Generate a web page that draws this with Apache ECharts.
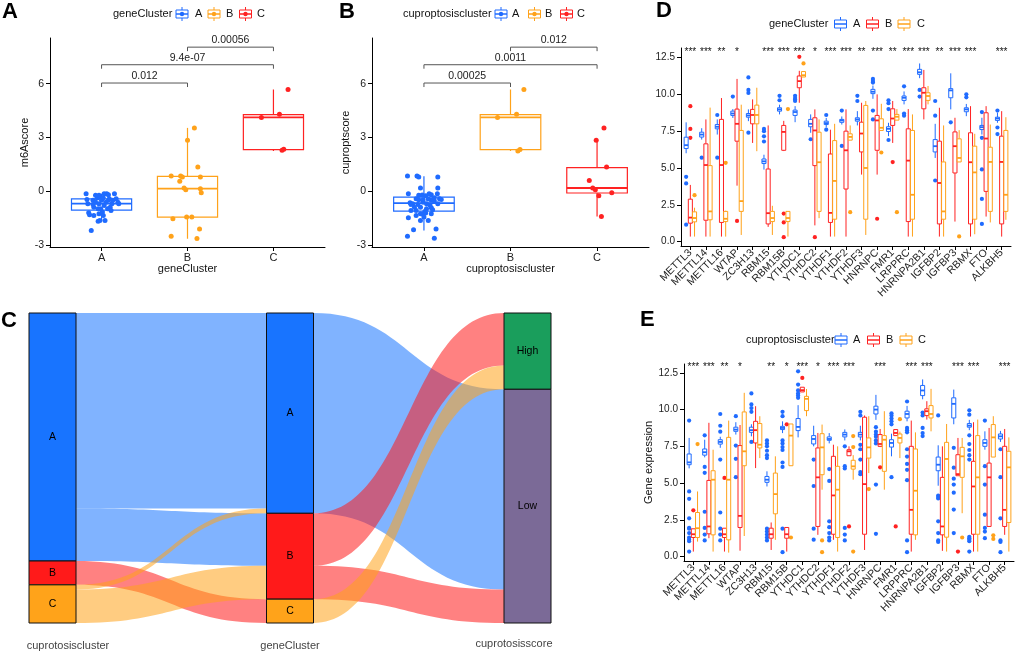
<!DOCTYPE html>
<html><head><meta charset="utf-8">
<script src="https://cdn.jsdelivr.net/npm/echarts@6.0.0/dist/echarts.min.js"></script>
<style>html,body{margin:0;padding:0;background:#fff}#c{width:1017px;height:652px}</style>
</head><body><div id="c"></div>
<script>
const FONT = "'Liberation Sans', Arial, sans-serif";
const BLUE = '#1F6BFF', ORANGE = '#FFA21A', RED = '#FF2222';

// ---------- Panel A / B ----------
const catsAB = ['A', 'B', 'C'];
const boxA = [[-1.62,-1.05,-0.68,-0.42,-0.13],[-2.64,-1.43,0.15,0.84,3.54],[2.25,2.33,4.12,4.28,5.68]];
const ptsA_A = [[-0.18,-0.13],[-0.12,-2.18],[-0.17,-0.45],[-0.16,-0.69],[-0.15,-1.19],[-0.14,-1.30],[-0.10,-0.50],[-0.09,-0.88],[-0.07,-0.60],[-0.05,-0.37],[-0.04,-0.97],[-0.03,-0.22],[-0.03,-1.25],[-0.02,-1.62],[-0.01,-0.32],[0.00,-0.50],[0.01,-1.15],[0.02,-1.34],[0.03,-0.13],[0.04,-1.62],[0.05,-0.60],[0.06,-0.13],[0.07,-0.97],[0.08,-0.50],[0.09,-0.41],[0.10,-0.88],[0.11,-1.06],[0.12,-0.69],[0.13,-0.50],[0.15,-0.13],[0.17,-0.41],[0.19,-0.60],[0.20,-0.69],[-0.04,-1.66],[-0.01,-0.97],[0.03,-0.78],[-0.07,-0.22],[-0.09,-1.34],[-0.03,-0.69],[0.08,-0.19],[0.02,-0.35],[-0.10,-0.73]];
const ptsA_B = [[0.08,3.54],[0.0,2.85],[0.12,1.36],[-0.19,0.86],[-0.08,0.86],[-0.06,0.80],[0.15,0.80],[-0.09,0.56],[-0.04,0.19],[-0.02,0.09],[0.15,0.15],[0.16,-0.07],[-0.17,-1.53],[-0.01,-1.43],[0.05,-1.43],[0.14,-2.09],[-0.19,-2.50],[0.11,-2.63]];
const ptsA_C = [[0.17,5.68],[0.07,4.30],[-0.14,4.12],[0.10,2.29],[0.12,2.35]];
const brA = [[0,1,6.04],[0,2,7.06],[1,2,8.04]];
const brA_lab = ['0.012','9.4e-07','0.00056'];

const boxB = [[-2.18,-1.1,-0.65,-0.32,0.84],[2.25,2.33,4.12,4.28,5.68],[-1.4,-0.09,0.19,1.32,2.85]];
const ptsB_A = [[-0.19,0.86],[-0.08,0.86],[-0.06,0.80],[0.16,0.80],[-0.04,0.19],[0.16,0.19],[-0.18,-0.13],[0.06,-0.13],[0.155,-0.13],[-0.06,-0.22],[-0.02,-0.20],[0.02,-0.24],[0.085,-0.19],[-0.09,-0.41],[0.18,-0.41],[0.085,-0.50],[0.12,-0.54],[0.20,-0.45],[-0.16,-0.63],[-0.13,-0.69],[-0.07,-0.73],[-0.01,-0.60],[0.03,-0.69],[0.07,-0.76],[0.16,-0.69],[-0.11,-0.88],[-0.04,-0.88],[0.085,-0.91],[-0.15,-1.06],[-0.09,-1.06],[0.01,-1.12],[0.10,-1.02],[-0.04,-1.25],[-0.01,-1.28],[0.02,-1.21],[-0.18,-1.47],[0.0,-1.43],[-0.04,-1.62],[0.05,-1.62],[-0.12,-2.14],[0.14,-2.09],[-0.19,-2.50],[0.12,-2.61],[0.03,-0.97],[-0.06,-0.47],[0.12,-0.35],[-0.15,-0.73],[-0.01,-0.47],[0.05,-0.43],[-0.09,-1.34],[0.085,-1.25]];
const ptsB_B = [[0.155,5.68],[0.07,4.30],[-0.15,4.12],[0.085,2.25],[0.11,2.33]];
const ptsB_C = [[0.08,3.54],[-0.01,2.85],[0.11,1.36],[-0.09,0.60],[-0.05,0.19],[-0.02,0.09],[0.02,-0.24],[0.17,-0.07],[0.05,-1.40]];
const brB = [[0,1,6.04],[0,2,7.06],[1,2,8.04]];
const brB_lab = ['0.00025','0.0011','0.012'];

// ---------- Panel C (sankey) ----------
const sankeyNames = ['cA','cB','cC','gA','gB','gC','High','Low'];
const sankeyLabels = ['A','B','C','A','B','C','High','Low'];
const sankeyColors = ['#1874FF','#FF1A1A','#FFA31A','#1874FF','#FF1A1A','#FFA31A','#1A9E5C','#7B6A97'];
const sankeyLinks = [['cA','gA',41],['cA','gB',11],['cB','gC',5],['cC','gA',1],['cC','gB',7],['gA','Low',42],['gB','High',11],['gB','Low',7],['gC','High',5]];

// ---------- Panels D / E ----------
const genes = ['METTL3','METTL14','METTL16','WTAP','ZC3H13','RBM15','RBM15B','YTHDC1','YTHDC2','YTHDF1','YTHDF2','YTHDF3','HNRNPC','FMR1','LRPPRC','HNRNPA2B1','IGFBP2','IGFBP3','RBMX','FTO','ALKBH5'];
const sigD = ['***','***','**','*','','***','***','***','*','***','***','**','***','**','***','***','**','***','***','','***'];
const sigE = ['***','***','**','*','','**','*','***','*','***','***','','***','','***','***','','***','***','','***'];

const statsD_A = [[6.0,6.32,6.55,7.09,8.1],[6.93,7.1,7.27,7.43,7.7],[7.27,7.66,7.8,7.95,8.3],[8.4,8.57,8.7,8.86,9.0],[8.18,8.45,8.57,8.7,8.98],[4.89,5.3,5.45,5.61,5.9],[8.64,8.86,8.98,9.09,9.3],[8.11,8.57,8.8,8.93,9.2],[7.39,7.8,8.0,8.3,8.64],[7.75,7.95,8.05,8.18,8.4],[7.95,8.1,8.23,8.3,8.5],[7.89,8.18,8.3,8.41,8.86],[9.7,10.05,10.18,10.34,10.6],[7.16,7.48,7.66,7.8,8.07],[9.32,9.59,9.77,9.89,10.2],[11.1,11.36,11.5,11.7,12.1],[5.68,6.09,6.48,6.93,8.0],[8.98,9.77,10.27,10.39,11.43],[8.52,8.82,8.98,9.09,9.35],[7.27,7.61,7.77,7.89,8.41],[8.07,8.23,8.36,8.45,8.75]];
const outD_A = [[4.4,3.95,1.15],[5.7],[8.6,5.7],[9.85],[11.15,10.3,10.1,7.4],[7.65,7.5,7.15,6.8],[9.9,9.6],[9.9,9.75,9.65,9.55],[6.95],[8.6,7.6],[8.9,6.5],[9.9,9.55],[11.05,10.9,10.8,8.9,8.3],[9.6,9.4,9.0,6.9],[10.55,8.7,8.55],[10.3,9.85],[9.55,8.55,4.15],[8.1],[10.0,9.8],[8.8,7.05,4.9,2.9,1.2],[8.9,7.75,7.3]];
const statsD_B = [[0.34,1.25,1.63,2.88,3.85],[0.34,1.45,5.2,6.64,8.3],[0.34,1.3,5.2,8.3,9.75],[3.8,6.82,8.0,9.0,11.05],[6.7,8.0,8.6,8.98,9.66],[1.0,1.2,1.93,4.93,7.89],[6.15,6.2,7.45,7.89,8.2],[9.43,10.45,10.9,11.25,11.6],[1.1,5.16,7.55,8.41,8.98],[0.34,1.3,1.95,5.95,7.6],[0.34,3.57,6.2,7.5,8.98],[4.55,6.09,7.34,8.11,9.43],[4.55,6.2,8.23,8.57,10.0],[6.7,7.89,8.36,9.02,9.55],[0.34,1.36,5.5,7.66,9.0],[8.3,9.02,10.11,10.45,11.66],[0.34,1.2,3.98,6.82,9.09],[1.36,4.66,6.48,7.45,8.41],[0.34,1.2,5.39,7.39,9.2],[1.7,3.41,7.0,8.75,9.2],[0.34,1.2,5.41,7.16,8.86]];
const outD_B = [[9.2,7.65,7.05],[],[],[1.4],[],[],[1.9,1.3,0.3],[12.55],[0.3],[],[],[],[1.55],[5.4],[],[],[],[],[],[],[]];
const statsD_C = [[0.34,1.34,1.6,2.02,2.3],[0.34,1.48,2.05,5.16,9.1],[0.34,1.36,1.55,2.05,2.1],[0.45,2.05,2.75,7.55,9.3],[6.14,8.0,8.6,9.27,10.45],[0.45,1.36,1.6,2.05,2.43],[0.34,1.36,1.6,2.05,2.05],[11.18,11.18,11.3,11.55,11.55],[1.59,2.05,5.39,7.43,8.3],[0.34,1.52,4.12,6.86,8.0],[6.89,6.89,7.11,7.32,7.89],[0.45,1.52,5.0,9.25,9.55],[7.55,7.55,7.73,8.34,9.36],[8.25,8.25,8.48,8.64,9.0],[0.34,1.52,3.18,7.55,8.64],[9.32,9.59,9.89,10.11,10.57],[0.34,1.52,2.05,5.41,7.89],[5.41,5.41,5.68,6.98,7.57],[0.5,1.52,4.7,6.48,7.32],[1.3,2.05,5.41,6.41,7.95],[1.48,2.05,3.18,7.55,8.45]];
const outD_C = [[3.15],[],[5.35],[],[],[],[9.0],[12.1],[],[],[2.0],[],[6.05],[2.0],[],[],[],[0.35],[],[],[]];

const statsE_A = [[6.0,6.25,6.41,6.98,8.07],[6.75,6.9,7.1,7.32,7.95],[7.4,7.65,7.8,7.95,8.15],[8.3,8.52,8.64,8.8,9.14],[8.18,8.45,8.6,8.8,9.0],[4.77,5.05,5.23,5.45,5.8],[8.4,8.64,8.75,8.86,9.2],[8.11,8.57,8.82,9.39,10.3],[7.5,7.66,8.0,8.23,8.9],[7.7,7.91,8.0,8.14,8.4],[7.9,8.14,8.3,8.45,8.65],[7.9,8.14,8.3,8.45,8.9],[9.3,9.7,10.0,10.23,11.0],[6.82,7.45,7.73,7.95,8.36],[9.2,9.43,9.7,9.89,10.25],[10.7,10.95,11.3,11.64,12.05],[4.82,5.84,6.25,6.77,7.57],[9.0,9.43,10.39,10.8,11.36],[8.6,8.8,8.91,9.05,9.3],[7.27,7.5,7.73,7.95,8.52],[7.8,8.0,8.18,8.34,8.55]];
const outE_A = [[9.25,4.43,3.93,2.6,1.95,1.9,1.6,1.3,1.15,1.05,0.34],[8.25,6.1,5.7,3.05,1.95,1.5,1.1],[9.7,8.9,8.5,6.6,3.0,1.9,1.5,1.1],[9.55,7.55,6.65,5.4],[11.1,10.35,10.1,9.85,7.8],[7.9,7.7,7.5,7.2,6.9,6.7,1.9,1.7,1.5,1.3,1.1],[9.85,9.55,7.9,7.7,7.45,7.25,6.4,6.1,1.9,0.3],[12.6,11.7,11.3,11.1,10.95,10.8],[6.6,4.8,1.9,1.15],[5.95,5.15,2.4,2.0,1.6,1.3,1.1],[7.5,6.15,6.0,1.95,1.5,1.1],[9.85,9.6,7.6,7.3,6.6,5.75,5.6],[8.8,8.5,8.3,8.15,7.9,7.7,4.9,1.55],[9.75,9.6,9.4,9.2,9.0,5.4],[10.55,8.75,8.6,8.45,7.3,6.8,6.3,5.9,5.2,1.1,0.3],[9.8,9.6,8.75,8.4,8.2],[9.6,4.15,4.05,3.95,2.4,1.6,1.1,1.0],[7.4,6.05,5.3,4.9,4.35,3.2,1.6],[9.95,9.65,8.25,7.65,7.25,6.9,6.6,1.35,1.25,1.15,1.05,0.34],[9.25,6.15,4.9,2.85,1.95,1.7,1.25],[7.3,5.4,2.6,1.1,1.0,0.3]];
const statsE_B = [[0.34,1.3,1.52,1.89,1.89],[1.25,1.55,2.05,5.18,9.1],[0.34,1.3,1.52,1.93,1.93],[0.4,1.98,2.77,7.55,8.95],[6.02,7.73,8.6,9.2,10.23],[0.45,1.25,1.52,1.93,2.32],[0.34,1.25,1.52,1.98,1.98],[11.2,11.2,11.32,11.52,11.52],[1.48,2.05,5.39,7.39,8.41],[1.14,1.52,4.16,6.82,7.61],[6.86,6.86,7.16,7.27,7.5],[0.45,1.52,4.93,9.48,9.6],[7.45,7.5,7.66,8.3,8.68],[8.23,8.23,8.41,8.64,8.64],[0.34,1.52,3.18,7.5,9.25],[9.32,9.59,9.89,10.05,10.57],[0.39,1.48,2.05,5.39,7.5],[5.5,5.5,5.61,6.93,8.07],[0.34,1.52,4.77,6.48,9.14],[2.05,2.05,5.39,6.36,8.75],[1.48,2.05,3.18,7.5,8.68]];
const outE_B = [[3.15],[],[5.35],[],[],[],[9.0],[12.15],[],[],[2.05],[],[6.07],[2.05],[],[],[],[0.34],[],[],[]];
const statsE_C = [[1.02,1.3,1.93,3.0,4.43],[0.34,1.48,5.23,5.84,7.27],[0.27,1.14,5.23,8.11,9.25],[1.4,6.18,7.16,9.84,11.14],[6.7,7.39,7.61,9.05,9.55],[1.14,2.91,4.25,5.68,6.82],[6.18,6.18,8.23,9.02,9.02],[9.55,9.93,10.73,10.9,11.4],[4.55,5.57,7.43,8.36,8.98],[0.34,1.3,4.55,6.14,7.5],[5.23,5.95,6.14,6.55,6.9],[5.68,6.7,7.43,8.07,9.55],[4.55,5.8,7.95,8.23,9.89],[6.7,7.73,8.07,8.34,8.5],[1.14,1.48,4.48,7.32,8.45],[8.52,9.43,9.7,10.27,11.41],[0.34,1.32,6.64,7.77,9.02],[2.95,5.39,6.82,7.43,8.07],[0.34,1.52,5.39,8.23,9.32],[6.77,6.77,8.11,8.98,9.55],[0.34,2.32,6.07,7.16,8.11]];
const outE_C = [[7.65],[],[],[],[],[],[1.3],[],[1.1,0.3],[],[8.2,7.45,0.34],[4.59],[],[9.35],[],[],[],[1.3],[],[1.45,1.2],[]];

// ---------- helpers ----------
function boxRender(off, w, colors, lw, mw) {
  return function (params, api) {
    const x = api.value(0) + off;
    const c = colors[params.dataIndex % colors.length];
    const pMin = api.coord([x, api.value(1)]), pQ1 = api.coord([x, api.value(2)]);
    const pMd = api.coord([x, api.value(3)]), pQ3 = api.coord([x, api.value(4)]);
    const pMax = api.coord([x, api.value(5)]);
    const half = api.size([w, 0])[0] / 2;
    return {type: 'group', children: [
      {type: 'line', shape: {x1: pMax[0], y1: pMax[1], x2: pQ3[0], y2: pQ3[1]}, style: {stroke: c, lineWidth: lw}},
      {type: 'line', shape: {x1: pQ1[0], y1: pQ1[1], x2: pMin[0], y2: pMin[1]}, style: {stroke: c, lineWidth: lw}},
      {type: 'rect', shape: {x: pQ3[0] - half, y: pQ3[1], width: 2 * half, height: Math.max(pQ1[1] - pQ3[1], 0.5)}, style: {fill: '#fff', stroke: c, lineWidth: lw}},
      {type: 'line', shape: {x1: pMd[0] - half, y1: pMd[1], x2: pMd[0] + half, y2: pMd[1]}, style: {stroke: c, lineWidth: mw}}
    ]};
  };
}
function boxSeries(ai, stats, off, w, colors, lw, mw) {
  return {type: 'custom', coordinateSystem: 'cartesian2d', xAxisIndex: ai, yAxisIndex: ai, silent: true, z: 2,
    encode: {x: 0, y: [1, 2, 3, 4, 5]}, data: stats.map((s, i) => [i].concat(s)),
    renderItem: boxRender(off, w, colors, lw, mw)};
}
function jitterSeries(ai, pts, gi, color, size) {
  return {type: 'scatter', xAxisIndex: ai, yAxisIndex: ai, silent: true, z: 3, symbolSize: size,
    itemStyle: {color: color, opacity: 1}, data: pts.map(p => [gi + p[0], p[1]])};
}
function outlierSeries(ai, outs, off, color) {
  const d = [];
  outs.forEach((arr, i) => arr.forEach(v => d.push([i + off, v])));
  return {type: 'scatter', xAxisIndex: ai, yAxisIndex: ai, silent: true, z: 1, symbolSize: 4.2,
    itemStyle: {color: color, opacity: 1}, data: d};
}
function bracketSeries(ai, br, labs) {
  return {type: 'custom', coordinateSystem: 'cartesian2d', xAxisIndex: ai, yAxisIndex: ai, silent: true, z: 4,
    encode: {x: [0, 1], y: 2}, data: br,
    renderItem: function (params, api) {
      const p1 = api.coord([api.value(0), api.value(2)]), p2 = api.coord([api.value(1), api.value(2)]);
      return {type: 'group', children: [
        {type: 'polyline', shape: {points: [[p1[0], p1[1] + 4], [p1[0], p1[1]], [p2[0], p2[1]], [p2[0], p2[1] + 4]]}, style: {stroke: '#555', lineWidth: 1, fill: 'none'}},
        {type: 'text', x: (p1[0] + p2[0]) / 2, y: p1[1] - 1.5, style: {text: labs[params.dataIndex], fill: '#222', font: '10.5px ' + FONT, textAlign: 'center', textVerticalAlign: 'bottom', align: 'center', verticalAlign: 'bottom'}}
      ]};
    }};
}
function starSeries(ai, sig, yv) {
  return {type: 'custom', coordinateSystem: 'cartesian2d', xAxisIndex: ai, yAxisIndex: ai, silent: true, z: 4,
    encode: {x: 0, y: 1}, data: sig.map((s, i) => [i, yv]),
    renderItem: function (params, api) {
      const p = api.coord([api.value(0), api.value(1)]);
      return {type: 'text', x: p[0], y: p[1], style: {text: sig[params.dataIndex], fill: '#111', font: '10px ' + FONT, textAlign: 'center', textVerticalAlign: 'middle', align: 'center', verticalAlign: 'middle'}};
    }};
}
function xAxisCat(gi, cats, min, max, name, rotate, fs) {
  const idx = cats.map((c, i) => i);
  return {gridIndex: gi, type: 'value', min: min, max: max,
    name: name || '', nameLocation: 'middle', nameGap: 15,
    nameTextStyle: {fontSize: 11, color: '#111', fontFamily: FONT},
    axisLine: {show: true, onZero: false, lineStyle: {color: '#000', width: 1}},
    axisTick: {show: true, customValues: idx, length: 4, lineStyle: {color: '#000'}},
    axisLabel: {show: true, customValues: idx, rotate: rotate || 0, margin: 5, fontSize: fs, color: '#222', fontFamily: FONT, formatter: v => cats[Math.round(v)]},
    splitLine: {show: false}};
}
function yAxisVal(gi, min, max, ticks, name, gap, dec, fs) {
  return {gridIndex: gi, type: 'value', min: min, max: max,
    name: name || '', nameLocation: 'middle', nameGap: gap, nameRotate: 90,
    nameTextStyle: {fontSize: 11, color: '#111', fontFamily: FONT},
    axisLine: {show: true, onZero: false, lineStyle: {color: '#000', width: 1}},
    axisTick: {show: true, customValues: ticks, length: 4, lineStyle: {color: '#000'}},
    axisLabel: {show: true, customValues: ticks, margin: 6, fontSize: fs, color: '#222', fontFamily: FONT, formatter: v => v.toFixed(dec)},
    splitLine: {show: false}};
}
function txt(x, y, text, size, opts) {
  return {type: 'text', x: x, y: y, silent: true, style: Object.assign({text: text, fill: '#111', font: size + 'px ' + FONT, textAlign: 'left', textVerticalAlign: 'middle', align: 'left', verticalAlign: 'middle'}, opts || {})};
}
function legIcon(cx, cy, color, dot) {
  const ch = [
    {type: 'line', shape: {x1: cx, y1: cy - 7, x2: cx, y2: cy + 7}, style: {stroke: color, lineWidth: 1}},
    {type: 'rect', shape: {x: cx - 6, y: cy - 4, width: 12, height: 8}, style: {fill: '#fff', stroke: color, lineWidth: 1}},
    {type: 'line', shape: {x1: cx - 6, y1: cy, x2: cx + 6, y2: cy}, style: {stroke: color, lineWidth: 1.5}}
  ];
  if (dot) ch.push({type: 'circle', shape: {cx: cx, cy: cy, r: 2.2}, style: {fill: color}});
  return {type: 'group', silent: true, children: ch};
}

const OFF = 0.27, BW = 0.26;

const option = {
  animation: false,
  backgroundColor: '#fff',
  textStyle: {fontFamily: FONT},
  grid: [
    {left: 50, top: 38, width: 275, height: 209},
    {left: 372, top: 38, width: 277, height: 209},
    {left: 681, top: 48, width: 330, height: 198},
    {left: 684, top: 364, width: 330, height: 197}
  ],
  xAxis: [
    xAxisCat(0, catsAB, -0.6, 2.6, 'geneCluster', 0, 11),
    xAxisCat(1, catsAB, -0.6, 2.6, 'cuproptosiscluster', 0, 11),
    xAxisCat(2, genes, -0.6, 20.6, '', 45, 10.5),
    xAxisCat(3, genes, -0.6, 20.6, '', 45, 10.5)
  ],
  yAxis: [
    yAxisVal(0, -3.1, 8.55, [-3, 0, 3, 6], 'm6Ascore', 17, 0, 10.5),
    yAxisVal(1, -3.1, 8.55, [-3, 0, 3, 6], 'cuproptscore', 21, 0, 10.5),
    yAxisVal(2, -0.3, 13.15, [0, 2.5, 5, 7.5, 10, 12.5], '', 30, 1, 10),
    yAxisVal(3, -0.3, 13.1, [0, 2.5, 5, 7.5, 10, 12.5], 'Gene expression', 29, 1, 10)
  ],
  series: [
    boxSeries(0, boxA, 0, 0.7, [BLUE, ORANGE, RED], 1.2, 1.8),
    jitterSeries(0, ptsA_A, 0, BLUE, 5), jitterSeries(0, ptsA_B, 1, ORANGE, 5), jitterSeries(0, ptsA_C, 2, RED, 5),
    bracketSeries(0, brA, brA_lab),
    boxSeries(1, boxB, 0, 0.7, [BLUE, ORANGE, RED], 1.2, 1.8),
    jitterSeries(1, ptsB_A, 0, BLUE, 5), jitterSeries(1, ptsB_B, 1, ORANGE, 5), jitterSeries(1, ptsB_C, 2, RED, 5),
    bracketSeries(1, brB, brB_lab),
    outlierSeries(2, outD_A, -OFF, BLUE), outlierSeries(2, outD_B, 0, RED), outlierSeries(2, outD_C, OFF, ORANGE),
    boxSeries(2, statsD_A, -OFF, BW, [BLUE], 1, 1.8), boxSeries(2, statsD_B, 0, BW, [RED], 1, 1.8), boxSeries(2, statsD_C, OFF, BW, [ORANGE], 1, 1.8),
    starSeries(2, sigD, 12.85),
    outlierSeries(3, outE_A, -OFF, BLUE), outlierSeries(3, outE_B, 0, RED), outlierSeries(3, outE_C, OFF, ORANGE),
    boxSeries(3, statsE_A, -OFF, BW, [BLUE], 1, 1.8), boxSeries(3, statsE_B, 0, BW, [RED], 1, 1.8), boxSeries(3, statsE_C, OFF, BW, [ORANGE], 1, 1.8),
    starSeries(3, sigE, 12.9),
    {
      type: 'sankey', left: 29, top: 313, right: 466, bottom: 29,
      nodeWidth: 47, nodeGap: 0, layoutIterations: 0, draggable: false, silent: true,
      emphasis: {disabled: true},
      data: sankeyNames.map((n, i) => ({name: n, itemStyle: {color: sankeyColors[i], borderColor: '#111', borderWidth: 1}})),
      links: sankeyLinks.map(l => ({source: l[0], target: l[1], value: l[2]})),
      lineStyle: {color: 'source', opacity: 0.55, curveness: 0.5},
      label: {show: true, position: 'inside', color: '#000', fontSize: 10.5, fontFamily: FONT,
        formatter: p => sankeyLabels[sankeyNames.indexOf(p.name)]}
    }
  ],
  graphic: [
    txt(2, 12, 'A', 22, {font: 'bold 22px ' + FONT, fill: '#000'}),
    txt(339, 12, 'B', 22, {font: 'bold 22px ' + FONT, fill: '#000'}),
    txt(656, 11, 'D', 22, {font: 'bold 22px ' + FONT, fill: '#000'}),
    txt(1, 321, 'C', 22, {font: 'bold 22px ' + FONT, fill: '#000'}),
    txt(640, 320, 'E', 22, {font: 'bold 22px ' + FONT, fill: '#000'}),
    // legend A
    txt(113, 14, 'geneCluster', 11),
    legIcon(182, 14, BLUE, true), txt(195, 14, 'A', 11),
    legIcon(214, 14, ORANGE, true), txt(226, 14, 'B', 11),
    legIcon(245.5, 14, RED, true), txt(257, 14, 'C', 11),
    // legend B
    txt(403, 14, 'cuproptosiscluster', 11),
    legIcon(501, 14, BLUE, true), txt(512, 14, 'A', 11),
    legIcon(534.5, 14, ORANGE, true), txt(545, 14, 'B', 11),
    legIcon(566.5, 14, RED, true), txt(577, 14, 'C', 11),
    // legend D
    txt(769, 24, 'geneCluster', 11),
    legIcon(840.5, 24, BLUE, false), txt(853, 24, 'A', 11),
    legIcon(872.5, 24, RED, false), txt(885, 24, 'B', 11),
    legIcon(904, 24, ORANGE, false), txt(917, 24, 'C', 11),
    // legend E
    txt(746, 340, 'cuproptosiscluster', 11),
    legIcon(841, 340, BLUE, false), txt(853, 340, 'A', 11),
    legIcon(873.5, 340, RED, false), txt(886, 340, 'B', 11),
    legIcon(906, 340, ORANGE, false), txt(918, 340, 'C', 11),
    // sankey axis labels
    txt(68, 646, 'cuprotosiscluster', 11, {textAlign: 'center', align: 'center', fill: '#444'}),
    txt(290, 646, 'geneCluster', 11, {textAlign: 'center', align: 'center', fill: '#444'}),
    txt(514, 644, 'cuprotosisscore', 11, {textAlign: 'center', align: 'center', fill: '#444'})
  ]
};

const chart = echarts.init(document.getElementById('c'), null, {renderer: 'canvas'});
chart.setOption(option);
</script>
</body></html>
